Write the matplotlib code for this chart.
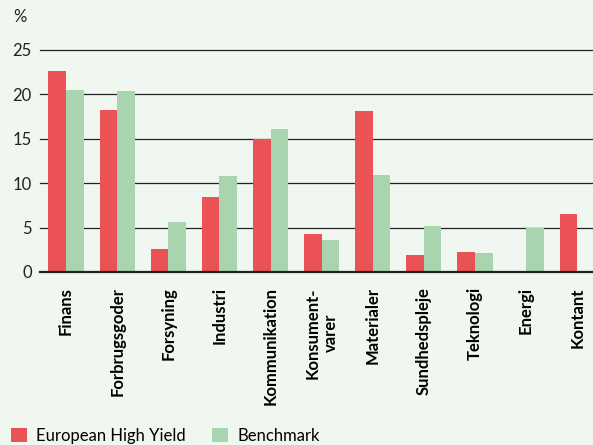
import numpy as np
import matplotlib
matplotlib.use("Agg")
import matplotlib.pyplot as plt
from matplotlib.patches import Patch

# Sektorfordeling, European High Yield vs. benchmark (%)
sektorer = ['Finans', 'Forbrugsgoder', 'Forsyning', 'Industri', 'Kommunikation',
            'Konsument-\nvarer', 'Materialer', 'Sundhedspleje', 'Teknologi',
            'Energi', 'Kontant']
high_yield = [22.6, 18.2, 2.6, 8.5, 15.0, 4.3, 18.1, 1.9, 2.3, 0.0, 6.5]
benchmark = [20.5, 20.4, 5.6, 10.8, 16.1, 3.6, 10.9, 5.2, 2.1, 5.0, 0.0]
y_ticks = [0, 5, 10, 15, 20, 25]

rod = '#EB5256'
gron = '#A8D4AF'
baggrund = '#F0F6F0'

plt.rcParams['font.family'] = ['Lato', 'DejaVu Sans']

fig = plt.figure(figsize=(5.93, 4.45), dpi=100, facecolor=baggrund)
ax = fig.add_axes([40 / 593, 1 - 272 / 445, 1 - 40 / 593, (272 - 50) / 445])
ax.set_facecolor(baggrund)

x = np.arange(len(sektorer))
bredde = 0.345
ax.bar(x - bredde / 2, high_yield, width=bredde, color=rod, zorder=3)
ax.bar(x + bredde / 2, benchmark, width=bredde, color=gron, zorder=3)

ax.set_xlim(-0.51, 10.31)
ax.set_ylim(0, 25)
ax.set_yticks(y_ticks)
ax.set_yticklabels([str(t) for t in y_ticks], fontsize=12, color='#222222')
ax.set_xticks(x)
ax.set_xticklabels(sektorer, rotation=90, fontsize=12, fontweight='bold',
                   ha='center', va='top', multialignment='center')
ax.tick_params(axis='y', length=0, pad=6)
ax.tick_params(axis='x', length=0, pad=11)

# gitterlinjer
for t in y_ticks[1:]:
    ax.axhline(t, color='#222222', linewidth=0.9, zorder=1, clip_on=False)
ax.axhline(0, color='#222222', linewidth=1.6, zorder=4, clip_on=False)

for s in ax.spines.values():
    s.set_visible(False)

fig.text(20 / 593, 1 - 17.5 / 445, '%', fontsize=12, ha='center', va='center',
         color='#222222')

handles = [Patch(facecolor=rod, label='European High Yield'),
           Patch(facecolor=gron, label='Benchmark')]
fig.legend(handles=handles, loc='center left', bbox_to_anchor=(11 / 593, 1 - 436 / 445),
           ncol=2, frameon=False, fontsize=12, handlelength=0.95, handleheight=0.95,
           handletextpad=0.55, columnspacing=1.6, borderpad=0, borderaxespad=0)

fig.savefig('out.png', dpi=100, facecolor=baggrund)
